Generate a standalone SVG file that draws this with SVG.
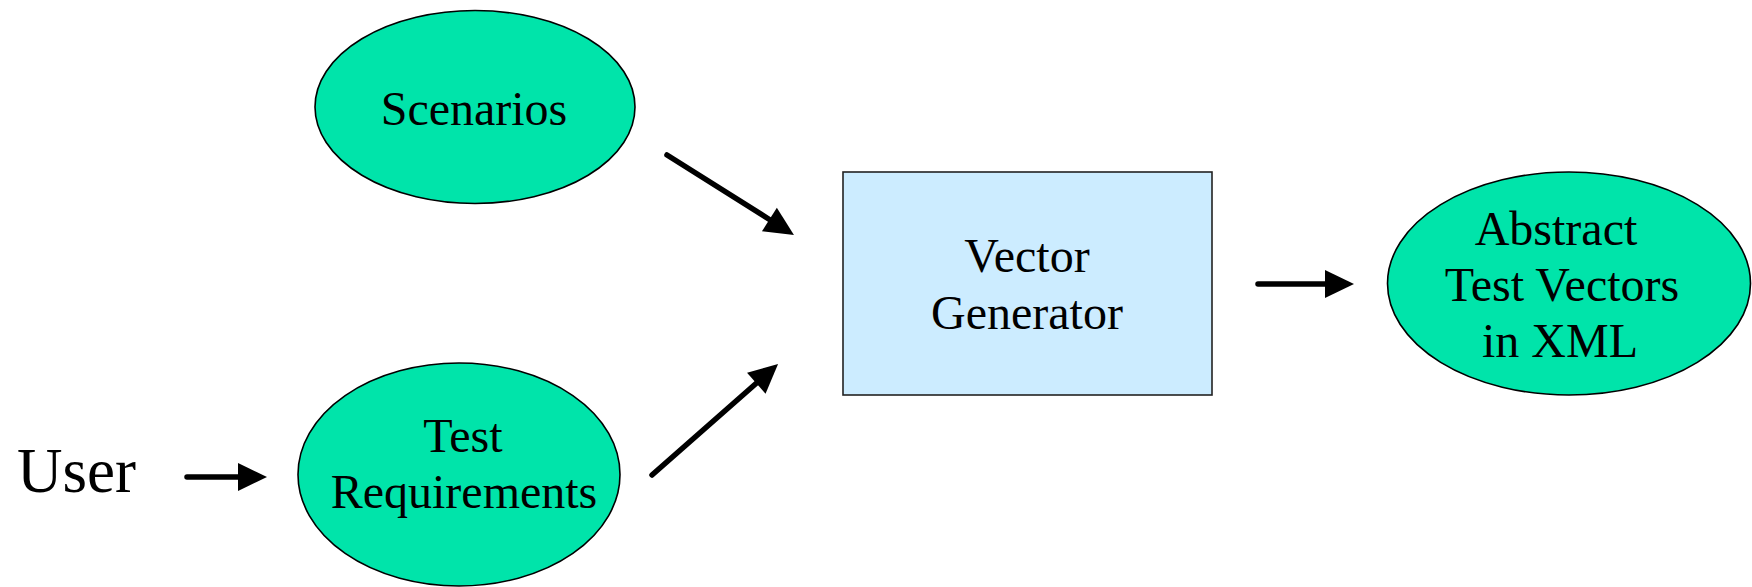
<svg xmlns="http://www.w3.org/2000/svg" width="1752" height="587" viewBox="0 0 1752 587">
<style>
.node{fill:#00E4AA;stroke:#000;stroke-width:1.6}
.box{fill:#CCECFF;stroke:#222;stroke-width:1.6}
.lbl{font-family:"Liberation Serif","Times New Roman",serif;font-size:48px;fill:#000;text-anchor:middle}
.conn{stroke:#000;stroke-width:5.5;stroke-linecap:round;fill:none;marker-end:url(#ah)}
</style>
<defs>
<marker id="ah" markerUnits="userSpaceOnUse" markerWidth="29" markerHeight="28" refX="0" refY="14" orient="auto" overflow="visible">
<path d="M0,0 L29,14 L0,28 Z" fill="#000"/>
</marker>
</defs>
<rect width="1752" height="587" fill="#fff"/>
<g id="user">
<text x="17" y="492" style="font-family:'Liberation Serif','Times New Roman',serif;font-size:63px;fill:#000">User</text>
</g>
<g id="scenarios">
<ellipse class="node" cx="475" cy="107" rx="160" ry="96.5"/>
<text class="lbl" x="474" y="125">Scenarios</text>
</g>
<g id="test-requirements">
<ellipse class="node" cx="459" cy="474.5" rx="161" ry="111.5"/>
<text class="lbl" x="463" y="452">Test</text>
<text class="lbl" x="464" y="508">Requirements</text>
</g>
<g id="vector-generator">
<rect class="box" x="843" y="172" width="369" height="223"/>
<text class="lbl" x="1027" y="272">Vector</text>
<text class="lbl" x="1027" y="329">Generator</text>
</g>
<g id="abstract-test-vectors">
<ellipse class="node" cx="1569" cy="283.5" rx="181.5" ry="111.5"/>
<text class="lbl" x="1556" y="245">Abstract</text>
<text class="lbl" x="1562" y="301">Test Vectors</text>
<text class="lbl" x="1560" y="357">in XML</text>
</g>
<g id="connectors">
<line class="conn" x1="187" y1="477" x2="238" y2="477"/>
<line class="conn" x1="667" y1="155" x2="769.4" y2="219.5"/>
<line class="conn" x1="652" y1="475" x2="756.3" y2="383.2"/>
<line class="conn" x1="1258" y1="284" x2="1325" y2="284"/>
</g>
</svg>
